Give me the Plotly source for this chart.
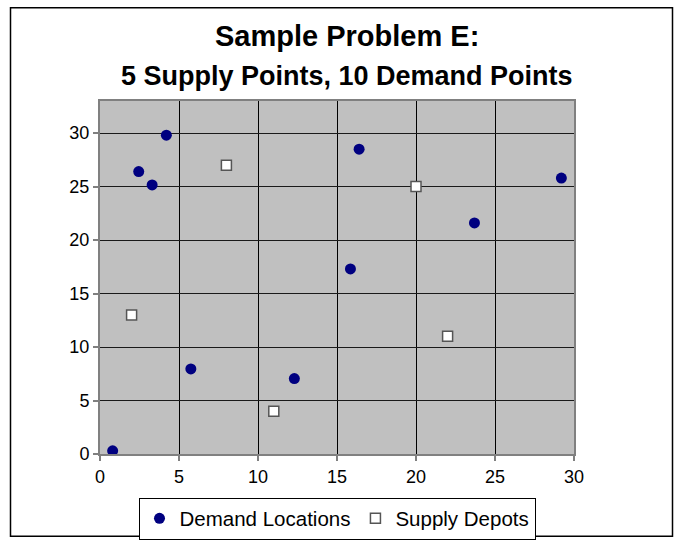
import plotly.graph_objects as go

demand_x = [0.8, 2.45, 3.3, 4.2, 5.75, 12.3, 15.85, 16.4, 23.7, 29.2]
demand_y = [0.3, 26.4, 25.15, 29.8, 7.95, 7.05, 17.3, 28.5, 21.6, 25.8]
supply_x = [2, 8, 11, 20, 22]
supply_y = [13, 27, 4, 25, 11]

FONT = "Liberation Sans, Arial, sans-serif"
L, R, T, B = 100, 100, 101, 86
W, H = 674, 552
pw, ph = W - L - R, H - T - B

def px(x):
    return (x - L) / pw

def py(y):
    return (H - B - y) / ph

fig = go.Figure()
fig.add_trace(go.Scatter(
    x=demand_x, y=demand_y, mode="markers", name="Demand Locations",
    marker=dict(symbol="circle", size=11, color="#000080", line=dict(width=0)),
))
fig.add_trace(go.Scatter(
    x=supply_x, y=supply_y, mode="markers", name="Supply Depots",
    marker=dict(symbol="square", size=10, color="white", line=dict(width=1.5, color="#555555")),
))

axis_common = dict(
    dtick=5, showgrid=True, gridwidth=1.2,
    zeroline=False, showline=True, linecolor="#808080", linewidth=2, mirror=True,
    ticks="outside", ticklen=5, tickcolor="#808080", tickwidth=1.5,
    tickfont=dict(size=18), fixedrange=True,
)

fig.update_layout(
    width=W, height=H,
    margin=dict(l=L, r=R, t=T, b=B),
    paper_bgcolor="white", plot_bgcolor="#C0C0C0",
    font=dict(family=FONT, color="black", size=18),
    xaxis=dict(range=[0, 30], gridcolor="black", **axis_common),
    yaxis=dict(range=[0, 33], gridcolor="#1a1a1a", **axis_common),
    legend=dict(orientation="h", x=px(337), y=py(511), xanchor="center", yanchor="top",
                bordercolor="black", borderwidth=1, bgcolor="white",
                font=dict(size=20.5), itemwidth=30, tracegroupgap=0),
    showlegend=True,
)

fig.add_annotation(text="<b>Sample Problem E:</b>", x=px(347), y=py(34), xref="paper", yref="paper",
                   showarrow=False, font=dict(size=29, family=FONT), xanchor="center", yanchor="middle")
fig.add_annotation(text="<b>5 Supply Points, 10 Demand Points</b>", x=px(347), y=py(75), xref="paper", yref="paper",
                   showarrow=False, font=dict(size=27, family=FONT), xanchor="center", yanchor="middle")

fig.add_shape(type="rect", xref="paper", yref="paper",
              x0=px(10.5), x1=px(672.5), y0=py(551), y1=py(4.5),
              line=dict(color="black", width=1.5), fillcolor="rgba(0,0,0,0)", layer="below")

fig.write_html("out.html", config={"displayModeBar": False},
               post_script="document.body.style.margin='0px';")
